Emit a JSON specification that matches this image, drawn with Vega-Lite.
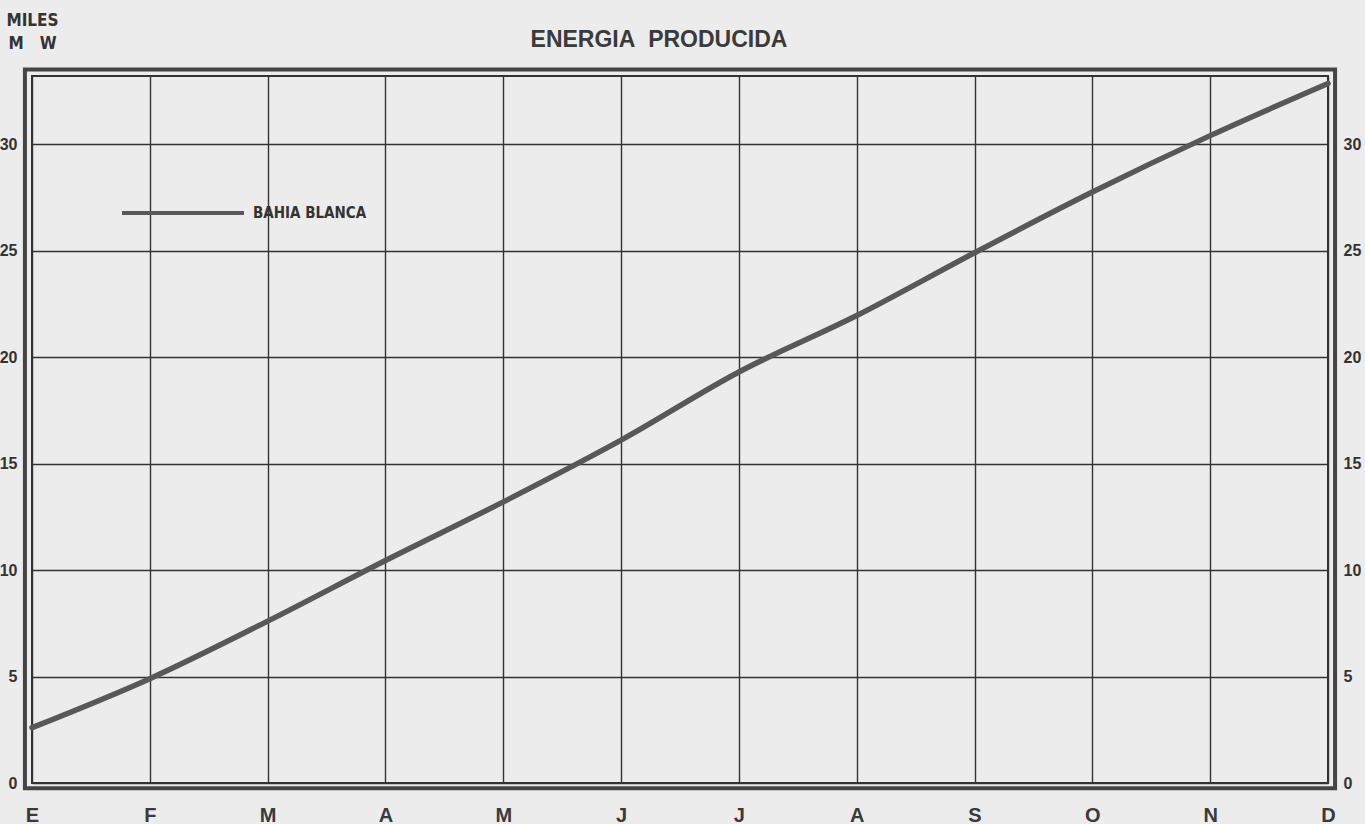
{
  "$schema": "https://vega.github.io/schema/vega-lite/v6.json",
  "width": 1296,
  "height": 707,
  "autosize": {"type": "none"},
  "padding": {"left": 32, "top": 76, "right": 37, "bottom": 41},
  "background": "#ececec",
  "config": {
    "view": {"stroke": "#333333", "strokeWidth": 2},
    "font": "Liberation Sans"
  },
  "title": {
    "text": "ENERGIA\u00a0\u00a0PRODUCIDA",
    "font": "Liberation Sans",
    "fontSize": 23,
    "fontWeight": "bold",
    "color": "#3a3a3a",
    "anchor": "middle",
    "frame": "group",
    "dx": -21,
    "offset": -41
  },
  "data": {
    "values": [
      {"m": 0, "v": 2.6, "serie": "BAHIA BLANCA"},
      {"m": 1, "v": 4.9, "serie": "BAHIA BLANCA"},
      {"m": 2, "v": 7.6, "serie": "BAHIA BLANCA"},
      {"m": 3, "v": 10.45, "serie": "BAHIA BLANCA"},
      {"m": 4, "v": 13.2, "serie": "BAHIA BLANCA"},
      {"m": 5, "v": 16.1, "serie": "BAHIA BLANCA"},
      {"m": 6, "v": 19.3, "serie": "BAHIA BLANCA"},
      {"m": 7, "v": 21.95, "serie": "BAHIA BLANCA"},
      {"m": 8, "v": 24.9, "serie": "BAHIA BLANCA"},
      {"m": 9, "v": 27.75, "serie": "BAHIA BLANCA"},
      {"m": 10, "v": 30.4, "serie": "BAHIA BLANCA"},
      {"m": 11, "v": 32.85, "serie": "BAHIA BLANCA"}
    ]
  },
  "layer": [
    {
      "data": {"values": [{"frame": 1}]},
      "mark": {"type": "rect", "fill": "transparent", "stroke": "#444444", "strokeWidth": 4, "clip": false},
      "encoding": {
        "x": {
          "datum": -0.06,
          "type": "quantitative",
          "scale": {"domain": [0, 11], "nice": false, "zero": false},
          "axis": {
            "values": [0, 1, 2, 3, 4, 5, 6, 7, 8, 9, 10, 11],
            "labelExpr": "['E','F','M','A','M','J','J','A','S','O','N','D'][datum.value]",
            "grid": true,
            "gridColor": "#333333",
            "gridWidth": 1.4,
            "gridOpacity": 1,
            "domain": false,
            "ticks": false,
            "labelPadding": 22,
            "labelFont": "Liberation Sans",
            "labelFontWeight": "bold",
            "labelFontSize": 20,
            "labelColor": "#3a3a3a",
            "labelFlush": false,
            "title": null
          }
        },
        "x2": {"datum": 11.06},
        "y": {
          "datum": -0.25,
          "type": "quantitative",
          "scale": {"domain": [0, 33.2], "nice": false, "zero": false},
          "axis": {
            "orient": "right",
            "values": [0, 5, 10, 15, 20, 25, 30],
            "grid": false,
            "domain": false,
            "ticks": false,
            "labelPadding": 15,
            "labelFont": "Liberation Sans",
            "labelFontWeight": "bold",
            "labelFontSize": 16,
            "labelColor": "#333333",
            "labelAlign": "left",
            "title": null
          }
        },
        "y2": {"datum": 33.5}
      }
    },
    {
      "mark": {"type": "line", "strokeWidth": 5.5, "strokeCap": "round", "interpolate": "monotone"},
      "encoding": {
        "x": {
          "field": "m",
          "type": "quantitative",
          "scale": {"domain": [0, 11], "nice": false, "zero": false},
          "axis": {
            "values": [0, 1, 2, 3, 4, 5, 6, 7, 8, 9, 10, 11],
            "labelExpr": "['E','F','M','A','M','J','J','A','S','O','N','D'][datum.value]",
            "grid": true,
            "gridColor": "#333333",
            "gridWidth": 1.4,
            "gridOpacity": 1,
            "domain": false,
            "ticks": false,
            "labelPadding": 22,
            "labelFont": "Liberation Sans",
            "labelFontWeight": "bold",
            "labelFontSize": 20,
            "labelColor": "#3a3a3a",
            "labelFlush": false,
            "title": null
          }
        },
        "y": {
          "field": "v",
          "type": "quantitative",
          "scale": {"domain": [0, 33.2], "nice": false, "zero": false},
          "axis": {
            "orient": "left",
            "values": [0, 5, 10, 15, 20, 25, 30],
            "grid": true,
            "gridColor": "#333333",
            "gridWidth": 1.4,
            "gridOpacity": 1,
            "domain": false,
            "ticks": false,
            "labelPadding": 15,
            "labelFont": "Liberation Sans",
            "labelFontWeight": "bold",
            "labelFontSize": 16,
            "labelColor": "#333333",
            "title": ["MILES", "M\u00a0\u00a0\u00a0W"],
            "titleAngle": 0,
            "titleAlign": "center",
            "titleBaseline": "top",
            "titleX": 0,
            "titleY": -64,
            "titleFont": "Liberation Sans Narrow, DejaVu Sans Condensed, sans-serif",
            "titleFontWeight": "bold",
            "titleFontSize": 17,
            "titleLineHeight": 23,
            "titleColor": "#333333"
          }
        },
        "color": {
          "field": "serie",
          "type": "nominal",
          "scale": {"range": ["#585858"]},
          "legend": {
            "orient": "none",
            "legendX": 88,
            "legendY": 74,
            "title": null,
            "symbolType": "stroke",
            "symbolSize": 14884,
            "symbolStrokeWidth": 4,
            "labelFont": "Liberation Sans Narrow, DejaVu Sans Condensed, sans-serif",
            "labelFontWeight": "bold",
            "labelFontSize": 15,
            "labelColor": "#333333",
            "labelOffset": 7
          }
        }
      }
    }
  ],
  "resolve": {"axis": {"y": "independent"}}
}
